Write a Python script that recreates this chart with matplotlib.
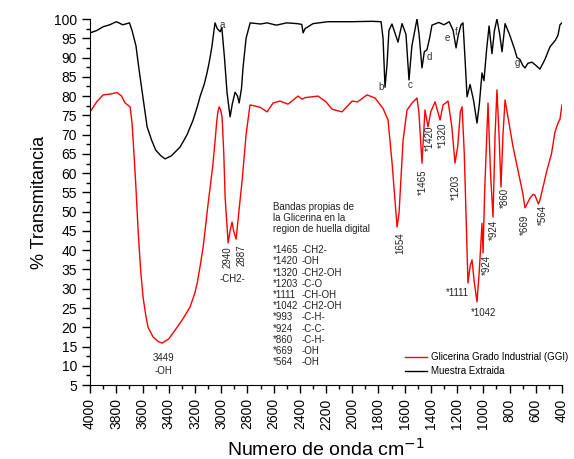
import matplotlib
matplotlib.use('Agg')
import matplotlib.pyplot as plt
from matplotlib.ticker import MultipleLocator

plt.rcParams['font.family'] = ['Liberation Sans', 'DejaVu Sans']

# Muestra Extraida (black)
wn_me = [4000, 3950, 3900, 3850, 3800, 3750, 3700, 3680, 3665, 3650, 3635, 3619,
         3590, 3565, 3530, 3500, 3460, 3428, 3380, 3313, 3260, 3214, 3180, 3160,
         3130, 3108, 3090, 3070, 3055, 3047, 3030, 3008, 2995,
         2975, 2955, 2932, 2915, 2894, 2875, 2863, 2845, 2833, 2810, 2779, 2700,
         2650, 2580, 2500, 2420, 2385, 2375, 2360, 2299, 2185, 2000, 1850, 1780,
         1765, 1750, 1735, 1720, 1697, 1651, 1620, 1590, 1567, 1545, 1506, 1490,
         1468, 1450, 1430, 1410, 1392, 1340, 1300, 1260, 1230, 1208, 1190, 1170,
         1155, 1140, 1124, 1101, 1075, 1048, 1030, 1010, 995, 975, 956, 934, 915,
         896, 875, 857, 834, 800, 760, 743, 720, 700, 682, 660, 629, 600, 568,
         530, 491, 450, 430, 415, 400]
t_me = [96.4, 97.0, 98.0, 98.5, 99.3, 98.5, 99.0, 97.0, 95.0, 93.0, 89.0, 85.0,
        78.0, 72.0, 68.5, 66.0, 64.5, 63.7, 64.5, 66.8, 70.0, 73.8, 77.5, 80.0,
        83.0, 86.0, 89.0, 93.0, 97.0, 99.0, 97.5, 96.7, 97.8,
        90.0, 80.8, 74.6, 78.0, 81.0, 80.0, 78.2, 82.0, 87.5, 95.0, 99.0, 98.7,
        99.0, 98.4, 99.0, 98.8, 98.6, 96.4, 97.5, 98.8, 99.3, 99.3, 99.4, 99.3,
        95.0, 82.3, 88.0, 97.0, 98.7, 94.0, 98.8, 96.0, 84.2, 93.0, 100.0, 96.0,
        87.3, 91.5, 92.0, 95.0, 98.4, 99.1, 98.5, 99.3, 97.0, 92.5, 96.0, 98.5,
        99.0, 90.0, 79.8, 83.0, 79.0, 73.0, 78.0, 86.0, 84.0, 92.0, 98.2, 91.0, 97.0,
        100.0, 96.0, 91.5, 98.8, 96.0, 92.0, 90.0, 89.5, 88.0, 87.3, 88.5, 88.8, 88.0, 87.0,
        89.5, 92.8, 94.5, 95.8, 98.5, 99.0]

# Glicerina Grado Industrial (red)
wn_ggi = [4000, 3950, 3901, 3850, 3794, 3760, 3733, 3695, 3680, 3672, 3660, 3650,
          3634, 3615, 3596, 3575, 3558, 3520, 3480, 3451, 3400, 3336, 3290, 3237,
          3200, 3180, 3160, 3138, 3120, 3100, 3080, 3062, 3045, 3035, 3025,
          3016, 3005, 2993, 2980, 2970, 2947, 2932, 2917, 2905, 2886, 2865, 2840, 2810,
          2780, 2740, 2703, 2650, 2604, 2551, 2490, 2413, 2383, 2360, 2261, 2200,
          2154, 2078, 2001, 1960, 1887, 1826, 1765, 1727, 1696, 1658, 1643, 1612,
          1582, 1544, 1506, 1491, 1468, 1445, 1422, 1400, 1368, 1330, 1307, 1269,
          1240, 1216, 1195, 1175, 1162, 1145, 1117, 1100, 1086, 1070, 1048, 1030,
          1010, 1002, 990, 964, 945, 926, 910, 896, 880, 865, 850, 834, 773, 700,
          682, 644, 620, 606, 580, 568, 540, 514, 480, 453, 430, 415, 400]
t_ggi = [75.9, 78.5, 80.3, 80.5, 80.9, 80.0, 78.2, 77.2, 73.0, 68.6, 62.0, 56.0,
         45.2, 35.0, 27.8, 23.0, 20.0, 17.5, 16.3, 15.9, 17.0, 20.0, 22.3, 25.3,
         29.0, 32.0, 36.0, 40.8, 46.0, 52.0, 57.5, 62.6, 69.0, 73.0, 76.0,
         77.2, 76.5, 74.6, 65.0, 53.8, 41.9, 45.0, 47.3, 45.0, 42.9, 50.0, 58.2, 70.0,
         77.7, 77.4, 77.1, 75.9, 78.2, 78.7, 77.9, 80.0, 79.2, 79.6, 80.0, 78.5,
         76.6, 75.9, 78.7, 78.5, 80.3, 79.5, 76.8, 73.8, 62.6, 46.0, 49.6, 68.6,
         76.4, 78.2, 79.5, 75.6, 62.6, 76.4, 72.0, 76.0, 78.5, 73.8, 77.7, 78.7,
         72.0, 62.6, 67.0, 76.0, 77.2, 65.0, 31.5, 36.0, 37.5, 32.0, 26.6, 35.0,
         47.0, 39.3, 55.0, 78.2, 60.0, 48.6, 70.0, 81.6, 70.0, 56.4, 70.0, 79.0, 66.8, 55.0,
         51.0, 53.5, 54.5, 54.3, 52.0, 53.0, 57.0, 60.8, 65.0, 70.7, 73.0, 74.0, 77.7]

# letter labels on black curve
letters = ['a', 'b', 'c', 'd', 'e', 'f', 'g']
letter_pos = [(2993, 98.4), (1780, 82.4), (1559, 82.9), (1414, 90.1),
              (1277, 95.1), (1208, 96.6), (743, 88.6)]

# peak labels (rotated) on red curve
peak_txt = ['2940', '2887', '1654', '*1465', '*1420', '*1320', '*1203',
            '*924', '*924', '*860', '*669', '*564']
peak_pos = [(2955, 38.2), (2841, 38.7), (1635, 41.9), (1460, 57.7),
            (1407, 69.1), (1307, 69.9), (1208, 56.4), (972, 36.2), (918, 45.2),
            (834, 53.5), (682, 46.5), (545, 49.1)]

bandas_cod = ['*1465', '*1420', '*1320', '*1203', '*1111', '*1042',
              '*993', '*924', '*860', '*669', '*564']
bandas_grp = ['-CH2-', '-OH', '-CH2-OH', '-C-O', '-CH-OH', '-CH2-OH',
              '-C-H-', '-C-C-', '-C-H-', '-OH', '-OH']

fig = plt.figure(figsize=(5.74, 4.59), dpi=100)
ax = fig.add_axes([0.157, 0.161, 0.822, 0.7976])

ax.plot(wn_ggi, t_ggi, color='#ff0000', lw=1.0, label='Glicerina Grado Industrial (GGI)')
ax.plot(wn_me, t_me, color='black', lw=1.0, label='Muestra Extraida')

ax.set_xlim(4000, 400)
ax.set_ylim(5, 100)
ax.xaxis.set_major_locator(MultipleLocator(200))
ax.xaxis.set_minor_locator(MultipleLocator(100))
ax.yaxis.set_major_locator(MultipleLocator(5))
ax.yaxis.set_minor_locator(MultipleLocator(2.5))
ax.spines['top'].set_visible(False)
ax.spines['right'].set_visible(False)
ax.tick_params(which='major', direction='out', length=6, width=1, labelsize=10)
ax.tick_params(which='minor', direction='out', length=3, width=1)
ax.tick_params(axis='x', labelrotation=90)

ax.set_xlabel('Numero de onda cm$^{-1}$', fontsize=14, labelpad=6)
ax.set_ylabel('% Transmitancia', fontsize=13, labelpad=4)

for s, (x, y) in zip(letters, letter_pos):
    ax.text(x, y, s, fontsize=7, color='#333333', ha='center', va='center')

for s, (x, y) in zip(peak_txt, peak_pos):
    ax.text(x, y, s, fontsize=7, color='#222222', rotation=90,
            ha='center', va='center')

ax.text(2917, 32.5, '-CH2-', fontsize=7, color='#222222', ha='center', va='center')
ax.text(3443, 12.0, '3449', fontsize=7, color='#222222', ha='center', va='center')
ax.text(3443, 8.6, '-OH', fontsize=7, color='#222222', ha='center', va='center')
ax.text(1201, 28.9, '*1111', fontsize=7, color='#222222', ha='center', va='center')
ax.text(1002, 23.7, '*1042', fontsize=7, color='#222222', ha='center', va='center')

ax.text(2604, 52.5, 'Bandas propias de\nla Glicerina en la\nregion de huella digital',
        fontsize=7, color='#222222', ha='left', va='top', linespacing=1.15)
ax.text(2604, 41.3, '\n'.join(bandas_cod), fontsize=7, color='#222222',
        ha='left', va='top', linespacing=1.15)
ax.text(2383, 41.3, '\n'.join(bandas_grp), fontsize=7, color='#222222',
        ha='left', va='top', linespacing=1.15)

ax.legend(loc='upper left', bbox_to_anchor=(0.667, 0.09), frameon=False,
          fontsize=7, borderpad=0, borderaxespad=0, handlelength=2.3,
          handletextpad=0.4, labelspacing=0.4)

fig.savefig('out.png', dpi=100)
